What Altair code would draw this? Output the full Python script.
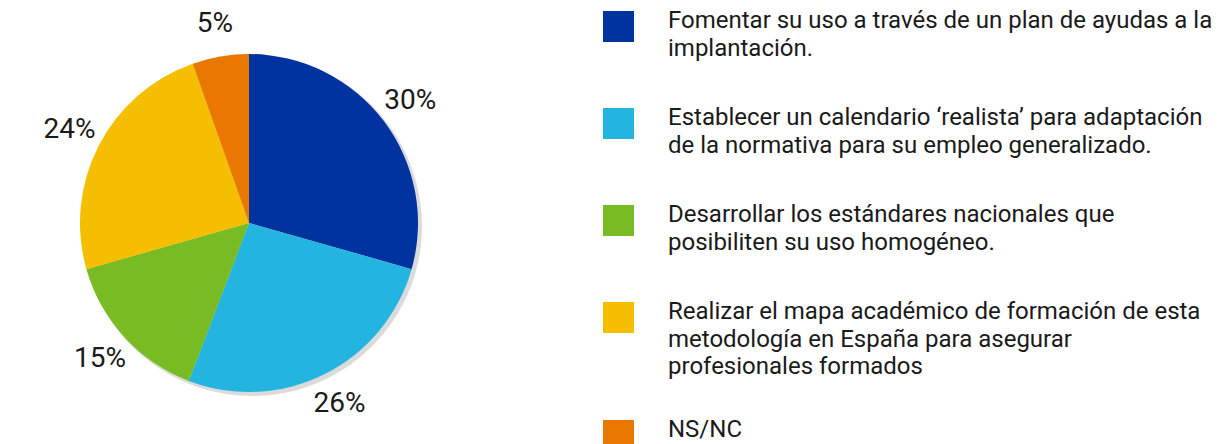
import altair as alt
import pandas as pd

cat_lines = [
    ["Fomentar su uso a través de un plan de ayudas a la", "implantación."],
    ["Establecer un calendario ‘realista’ para adaptación", "de la normativa para su empleo generalizado."],
    ["Desarrollar los estándares nacionales que", "posibiliten su uso homogéneo."],
    ["Realizar el mapa académico de formación de esta", "metodología en España para asegurar", "profesionales formados"],
    ["NS/NC"],
]
values = [29.4, 26.4, 14.8, 24.0, 5.4]
labels = ["30%", "26%", "15%", "24%", "5%"]
colors = ["#0033A0", "#23B5E0", "#78BB22", "#F5BF00", "#E97700"]

categories = ["|".join(l) for l in cat_lines]
df = pd.DataFrame({
    "cat": categories,
    "value": values,
    "label": labels,
    "idx": list(range(len(values))),
    "nlines": [len(l) for l in cat_lines],
})

FONT = "Roboto"
TXT = "#1a1a1a"
color_scale = alt.Scale(domain=categories, range=colors)

base = alt.Chart(df).encode(
    theta=alt.Theta("value:Q", stack=True),
    order=alt.Order("idx:Q"),
)

shadow = base.mark_arc(radius=170, color="#000000", opacity=0.14, xOffset=3, yOffset=3)
pie = base.mark_arc(radius=169).encode(
    color=alt.Color("cat:N", scale=color_scale, legend=None)
)
text = base.mark_text(radius=202, font=FONT, fontSize=28, color=TXT).encode(
    text="label:N"
)
pie_chart = alt.layer(shadow, pie, text).properties(width=482, height=428)

# Manual legend: entries stacked by their number of text lines
leg_base = alt.Chart(df).transform_calculate(
    step="datum.nlines * 21 + 55"
).transform_window(
    cum="sum(step)", sort=[alt.SortField("idx")], frame=[None, 0]
).transform_calculate(
    ypos="datum.cum - datum.step + 2"
).encode(
    y=alt.Y("ypos:Q", scale=alt.Scale(domain=[0, 428], reverse=True), axis=None)
)

swatches = leg_base.mark_square(size=961, opacity=1, yOffset=15.5).encode(
    x=alt.value(15.5),
    color=alt.Color("cat:N", scale=color_scale, legend=None),
)
leg_text = leg_base.mark_text(
    align="left", baseline="top", lineBreak="|", lineHeight=27.5,
    font=FONT, fontSize=24, color=TXT, dy=-2,
).encode(
    x=alt.value(65),
    text="cat:N",
)
legend_chart = alt.layer(swatches, leg_text).properties(width=615, height=428)

chart = alt.hconcat(pie_chart, legend_chart, spacing=113).properties(
    padding=0
).configure_view(stroke=None)

chart.save("out.html", embed_options={"renderer": "svg", "actions": False})
